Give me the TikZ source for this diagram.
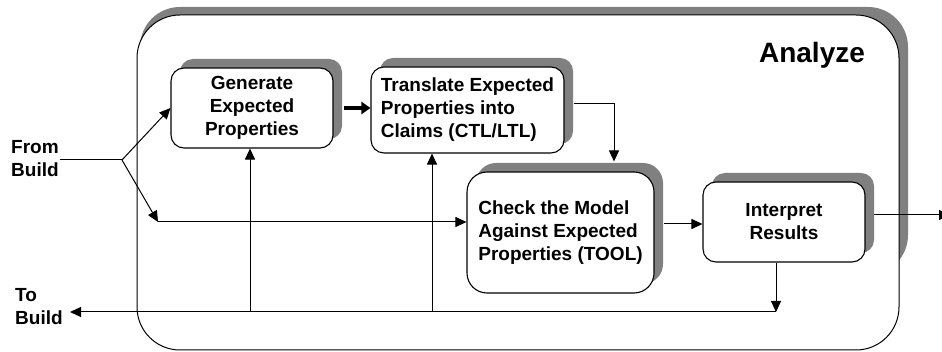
\documentclass[tikz,border=0pt]{standalone}
\usepackage{fontspec}
\setmainfont{Liberation Sans}
\usetikzlibrary{arrows.meta,shadows,calc}
\definecolor{shadowgray}{HTML}{808080}
\begin{document}
\begin{tikzpicture}[x=1pt,y=-1pt,
  every node/.style={font=\bfseries\fontsize{19}{23}\selectfont},
  procbox/.style={draw=black, line width=1.1pt, fill=white, rounded corners=13pt,
    drop shadow={shadow xshift=9pt, shadow yshift=9pt, fill=shadowgray, opacity=1}},
  conn/.style={line width=1pt, -{Triangle[length=11pt,width=10pt]}},
  thickconn/.style={line width=3.2pt, -{Triangle[length=9pt,width=12pt]}},
  lbl/.style={align=left, inner sep=1pt}]
\useasboundingbox (0,0) rectangle (942,352);
% outer Analyze box
\fill[shadowgray, rounded corners=40pt] (140,7) rectangle (908,275);
\draw[line width=1pt, fill=white, rounded corners=43pt] (137,15) rectangle (899,350);
\node (analyze) at (812,55) {\fontsize{28}{32}\selectfont Analyze};
% process boxes
\node[procbox, minimum width=162pt, minimum height=80pt, align=center] (gen) at (252,108)
  {Generate\\Expected\\Properties};
\node[procbox, minimum width=193pt, minimum height=86pt, align=left, inner sep=0pt] (trans) at (467.5,110)
  {Translate Expected\\Properties into\\Claims (CTL/LTL)};
\node[procbox, rounded corners=20pt, minimum width=187pt, minimum height=121pt, align=left, inner sep=0pt] (check) at (560.5,232.5)
  {Check the Model\\Against Expected\\Properties (TOOL)};
\node[procbox, minimum width=162pt, minimum height=80pt, align=center] (interp) at (784,222)
  {Interpret\\Results};
% labels
\node[lbl, anchor=west] (frombuild) at (10,159) {From\\Build};
\node[lbl, anchor=west] (tobuild) at (14,307) {To\\Build};
% coordinates
\coordinate (fork) at (122,160);
\coordinate (br) at (158,222);
\coordinate (bl) at (776,312);
\coordinate (toend) at (70,312);
\coordinate (v1) at (250,312);
\coordinate (v2) at (432,312);
\coordinate (tr) at (614,104);
\coordinate (ci) at (664,224);
\coordinate (io) at (874,215);
\coordinate (outend) at (950,215);
% connectors
\draw[line width=1pt] (frombuild.east |- fork) -- (fork);
\draw[conn] (fork) -- (gen.west);
\draw[conn] (fork) -- (br);
\draw[conn] (br) -- (check.west |- br);
\draw[thickconn] ($(gen.east)+(10,0)$) -- (trans.west |- gen.east);
\draw[conn] ($(trans.east |- tr)+(9,0)$) -- (tr) -- ($(tr |- check.north)+(0,-10)$);
\draw[conn] (ci) -- (interp.west |- ci);
\draw[conn] (io) -- (outend);
\draw[conn] (interp.south -| bl) -- (bl);
\draw[conn] (bl) -- (toend);
\draw[conn] (v1) -- (v1 |- gen.south);
\draw[conn] (v2) -- (v2 |- trans.south);
\end{tikzpicture}
\end{document}
